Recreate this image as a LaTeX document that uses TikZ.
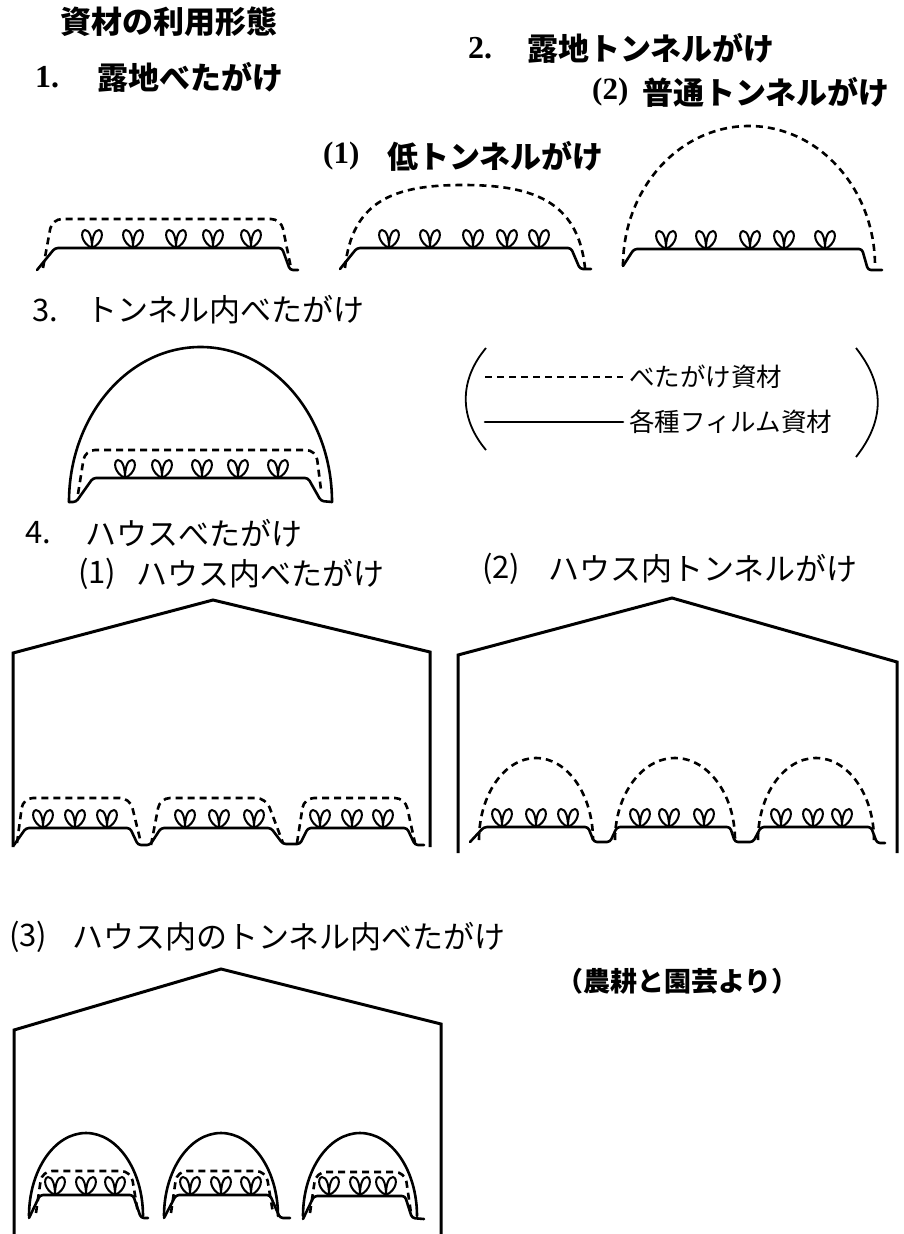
\documentclass[tikz,border=0pt]{standalone}
\usepackage{fontspec}
\setmainfont{Liberation Serif}
\newfontfamily\jp{Noto Sans CJK JP}
\usetikzlibrary{positioning}

\tikzset{
  film/.style={line width=2.6pt, line join=round, line cap=round},
  ground/.style={film, rounded corners=3pt},
  cover/.style={line width=2.6pt, dash pattern=on 7pt off 5pt},
  flatcover/.style={cover, rounded corners=10pt},
  house/.style={line width=3pt, line join=miter},
  jptext/.style={anchor=west, inner sep=0pt, font=\jp\fontsize{31}{33}\selectfont},
  jpbold/.style={jptext, font=\jp\bfseries\fontsize{31}{33}\selectfont},
  numtext/.style={anchor=west, inner sep=0pt, font=\bfseries\fontsize{32}{34}\selectfont},
  parentext/.style={numtext, font=\bfseries\fontsize{31}{33}\selectfont},
  legtext/.style={anchor=west, inner sep=0pt, font=\jp\fontsize{25.5}{27}\selectfont},
  plant/.pic={
    \draw[line width=2pt] (0,0) .. controls (-11,-5) and (-12,-17) .. (-7,-18)
      .. controls (-2,-18) and (0,-9) .. (0,0)
      .. controls (0,-9) and (2,-18) .. (7,-18)
      .. controls (12,-17) and (11,-5) .. (0,0);
  }
}

\begin{document}
\begin{tikzpicture}[x=1pt,y=-1pt]
    \useasboundingbox (0,0) rectangle (904,1234);

    % headings
    \node[jpbold] (title) at (60,22) {資材の利用形態};
    \node[numtext] (n1) at (35,77) {1.};
    \node[jpbold] (open) at (97,77) {露地べたがけ};
    \node[numtext] (n2) at (468,48) {2.};
    \node[jpbold] (tunnel) at (527,48) {露地トンネルがけ};
    \node[parentext] (n22) at (592,92) {(2)};
    \node[jpbold] (normal) at (642,92) {普通トンネルがけ};
    \node[parentext] (n21) at (323,156) {(1)};
    \node[jpbold] (low) at (387,156) {低トンネルがけ};

    % 1. open field, flat cover
    \draw[ground] (37,270) -- (55,248) -- (282,248) -- (290,270) -- (298,270);
    \draw[flatcover] (43,268) -- (52,219) -- (281,219) -- (291,268);
    \foreach \x in {92,133,176,213,251} \pic at (\x,248) {plant};

    % 2.(1) low tunnel
    \draw[ground] (340,269) -- (357,248) -- (571,248) -- (580,269) -- (591,269);
    \draw[cover] (345,268) .. controls (352,200) and (395,185) .. (463,185)
        .. controls (531,185) and (578,200) .. (585,268);
    \foreach \x in {389,430,473,507,539} \pic at (\x,248) {plant};

    % 2.(2) normal tunnel
    \draw[ground] (623,266) -- (634,249) -- (862,249) -- (868,270) -- (882,270);
    \draw[cover] (623,266) arc[start angle=180, end angle=360, x radius=126, y radius=140];
    \foreach \x in {666,706,750,784,825} \pic at (\x,249) {plant};

    % 3. cover inside a tunnel
    \node[jptext] (n3) at (32,310) {3.};
    \node[jptext] (inner) at (86,310) {トンネル内べたがけ};
    \draw[film] (69,502) arc[start angle=180, end angle=360, x radius=131.5, y radius=155];
    \draw[ground] (69,502) -- (76,502) -- (93,478) -- (308,478) -- (321,501) -- (332,502);
    \draw[flatcover] (78,494) -- (85,450) -- (316,450) -- (321,490);
    \foreach \x in {125,162,202,238,278} \pic at (\x,478) {plant};

    % legend
    \node[legtext] (legdash) at (629,377) {べたがけ資材};
    \node[legtext] (legfilm) at (629,422) {各種フィルム資材};
    \draw[cover] (485,377) -- ([xshift=-6pt]legdash.west);
    \draw[film] (485,422) -- ([xshift=-6pt]legfilm.west);
    \draw[line width=1.8pt] (486,348) .. controls (459,380) and (459,418) .. (486,450);
    \draw[line width=1.8pt] (856,348) .. controls (885,385) and (885,420) .. (856,457);

    % 4. greenhouses
    \node[jptext] (n4) at (25,533) {4.};
    \node[jptext] (house) at (85,533) {ハウスべたがけ};
    \node[jptext] (n41) at (78,574) {(1)};
    \node[jptext] (h1) at (136,574) {ハウス内べたがけ};
    \node[jptext] (n42) at (482,569) {(2)};
    \node[jptext] (h2) at (548,569) {ハウス内トンネルがけ};

    % (1) flat covers in the house
    \draw[house] (13,847) -- (13,653) -- (213,600) -- (430,652) -- (430,847);
    \draw[ground] (14,845) -- (26,828) -- (130,828) -- (138,845) -- (150,845)
        -- (161,828) -- (271,828) -- (283,844) -- (300,844)
        -- (308,828) -- (407,828) -- (415,845) -- (424,845);
    \draw[flatcover] (17,843) -- (23,798) -- (130,798) -- (141,843);
    \draw[flatcover] (151,845) -- (160,798) -- (266,798) -- (283,843);
    \draw[flatcover] (297,843) -- (304,798) -- (405,798) -- (415,843);
    \foreach \x in {43,75,107,185,219,254,320,352,383} \pic at (\x,828) {plant};

    % (2) tunnels in the house
    \draw[house] (458,853) -- (458,655) -- (672,598) -- (897,662) -- (897,853);
    \draw[ground] (470,842) -- (484,827) -- (588,827) -- (594,842) -- (610,842)
        -- (617,827) -- (730,827) -- (735,842) -- (753,842)
        -- (761,827) -- (871,827) -- (877,843) -- (885,843);
    \foreach \cx/\rx in {536/57,675/60,816/58}
        \draw[cover] ({\cx-\rx},840) arc[start angle=180, end angle=360, x radius=\rx, y radius=82];
    \foreach \x in {502,536,568,640,669,704,781,813,842} \pic at (\x,827) {plant};

    % (3) covers inside tunnels in the house
    \node[jptext] (n43) at (9,937) {(3)};
    \node[jptext] (h3) at (72,937) {ハウス内のトンネル内べたがけ};
    \node[jpbold, font=\jp\bfseries\fontsize{27}{29}\selectfont] (source) at (556,981) {（農耕と園芸より）};
    \draw[house] (14,1240) -- (14,1030) -- (221,969) -- (441,1024) -- (441,1240);
    \foreach \cx in {86,221,360}
        \draw[film] ({\cx-57},1216) arc[start angle=180, end angle=360, x radius=57, y radius=83];
    \draw[ground] (29,1218) -- (40,1195) -- (133,1195) -- (141,1218) -- (148,1218);
    \draw[ground] (164,1218) -- (176,1195) -- (270,1195) -- (280,1218) -- (290,1218);
    \draw[ground] (303,1219) -- (314,1196) -- (405,1196) -- (412,1218) -- (424,1219);
    \draw[flatcover] (36,1213) -- (42,1171) -- (131,1171) -- (138,1213);
    \draw[flatcover] (171,1213) -- (177,1171) -- (266,1171) -- (273,1213);
    \draw[flatcover] (310,1213) -- (316,1172) -- (405,1172) -- (411,1213);
    \foreach \x in {55,86,115,190,221,251,329,360,386} \pic at (\x,1195) {plant};
\end{tikzpicture}
\end{document}
